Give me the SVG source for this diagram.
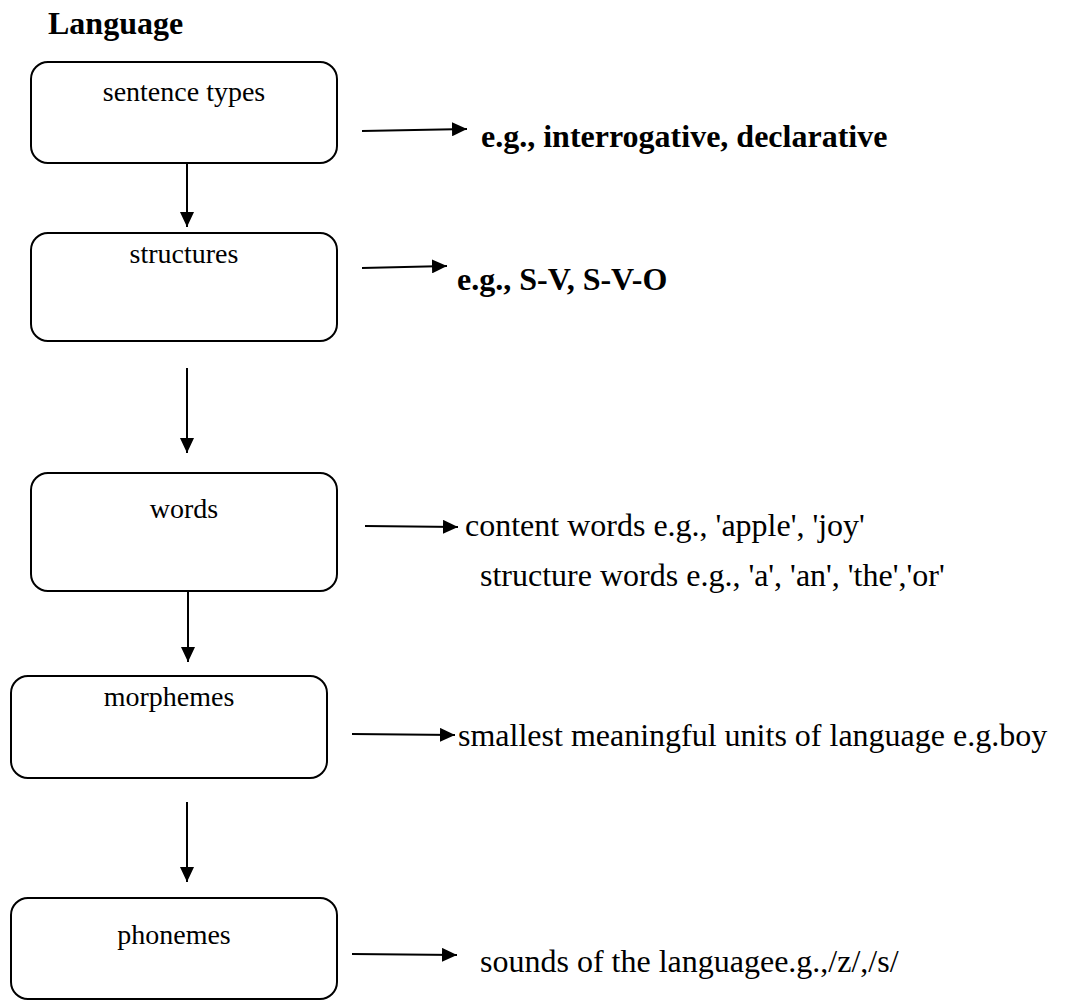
<svg xmlns="http://www.w3.org/2000/svg" width="1065" height="1001" viewBox="0 0 1065 1001">
<style>
.box{fill:#fff;stroke:#000;stroke-width:2}
.lbl{font-family:"Liberation Serif","Times New Roman",serif;font-size:28px;fill:#000;text-anchor:middle}
.txt{font-family:"Liberation Serif","Times New Roman",serif;font-size:32px;fill:#000}
.bold{font-weight:bold}
.conn{stroke:#000;stroke-width:2;fill:none;marker-end:url(#ah)}
</style>
<defs>
<marker id="ah" markerUnits="userSpaceOnUse" markerWidth="16" markerHeight="14" refX="15" refY="7" orient="auto">
<path d="M0,0 L15,7 L0,14 Z" fill="#000"/>
</marker>
</defs>
<rect width="1065" height="1001" fill="#fff"/>
<text class="txt bold" x="48" y="34">Language</text>
<g id="n1"><rect class="box" x="31" y="62" width="306" height="101" rx="17"/><text class="lbl" x="184" y="101">sentence types</text></g>
<g id="n2"><rect class="box" x="31" y="233" width="306" height="108" rx="17"/><text class="lbl" x="184" y="263">structures</text></g>
<g id="n3"><rect class="box" x="31" y="473" width="306" height="118" rx="17"/><text class="lbl" x="184" y="518">words</text></g>
<g id="n4"><rect class="box" x="11" y="676" width="316" height="102" rx="17"/><text class="lbl" x="169" y="706">morphemes</text></g>
<g id="n5"><rect class="box" x="11" y="898" width="326" height="101" rx="17"/><text class="lbl" x="174" y="944">phonemes</text></g>
<g id="t1"><text class="txt bold" x="481" y="147">e.g., interrogative, declarative</text></g>
<g id="t2"><text class="txt bold" x="457" y="290">e.g., S-V, S-V-O</text></g>
<g id="t3"><text class="txt" x="465" y="536">content words e.g., 'apple', 'joy'</text><text class="txt" x="480" y="586">structure words e.g., 'a', 'an', 'the','or'</text></g>
<g id="t4"><text class="txt" x="458" y="746">smallest meaningful units of language e.g.boy</text></g>
<g id="t5"><text class="txt" x="480" y="972">sounds of the languagee.g.,/z/,/s/</text></g>
<g id="connectors">
<line class="conn" x1="362" y1="131" x2="467" y2="129"/>
<line class="conn" x1="362" y1="268" x2="447" y2="266"/>
<line class="conn" x1="187" y1="163" x2="187" y2="227"/>
<line class="conn" x1="187" y1="368" x2="187" y2="453"/>
<line class="conn" x1="188" y1="591" x2="188" y2="662"/>
<line class="conn" x1="187" y1="802" x2="187" y2="882"/>
<line class="conn" x1="365" y1="526" x2="458" y2="527"/>
<line class="conn" x1="352" y1="734" x2="455" y2="735"/>
<line class="conn" x1="352" y1="954" x2="457" y2="955"/>
</g>
</svg>
